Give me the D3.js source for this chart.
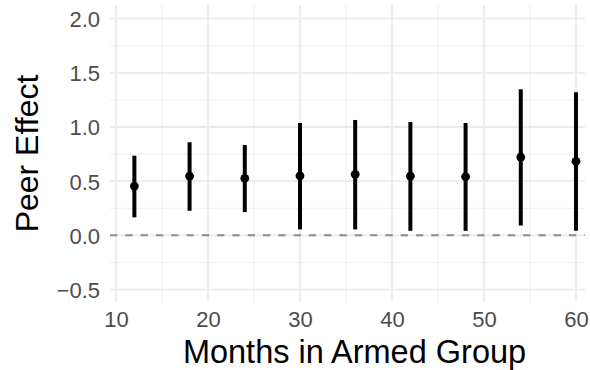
<!DOCTYPE html>
<html>
<head>
<meta charset="utf-8">
<script src="https://cdn.jsdelivr.net/npm/d3@7"></script>
<style>
  body { margin: 0; background: #fff; }
  text { font-family: "Liberation Sans", Arial, sans-serif; }
</style>
</head>
<body>
<div id="chart-area"></div>
<script>
// point estimates with 95% intervals
var months    = [12, 18, 24, 30, 36, 42, 48, 54, 60];
var estimates = [0.455, 0.547, 0.526, 0.550, 0.563, 0.547, 0.541, 0.723, 0.683];
var lower     = [0.166, 0.227, 0.215, 0.055, 0.055, 0.042, 0.042, 0.092, 0.042];
var upper     = [0.735, 0.859, 0.834, 1.037, 1.065, 1.046, 1.037, 1.348, 1.320];

var xTicks = [10, 20, 30, 40, 50, 60];
var xMinor = [15, 25, 35, 45, 55];
var yTicks = [-0.5, 0, 0.5, 1.0, 1.5, 2.0];
var yMinor = [-0.25, 0.25, 0.75, 1.25, 1.75];

var svgWidth = 590, svgHeight = 370;
var panel = { left: 110, right: 585, top: 5, bottom: 302 };

var svg = d3.select("#chart-area")
            .append("svg")
            .attr("width", svgWidth)
            .attr("height", svgHeight);

var x = d3.scaleLinear()
          .domain([9.35, 60.98])
          .range([panel.left, panel.right]);

var y = d3.scaleLinear()
          .domain([-0.615, 2.126])
          .range([panel.bottom, panel.top]);

var data = months.map((m, i) => ({ month: m, est: estimates[i], lo: lower[i], hi: upper[i] }));

// grid
var grid = svg.append("g");
grid.selectAll(".xminor").data(xMinor).enter().append("line")
    .attr("x1", d => x(d)).attr("x2", d => x(d))
    .attr("y1", panel.top).attr("y2", panel.bottom)
    .attr("stroke", "#f0f0f0").attr("stroke-width", 1);
grid.selectAll(".yminor").data(yMinor).enter().append("line")
    .attr("x1", panel.left).attr("x2", panel.right)
    .attr("y1", d => y(d)).attr("y2", d => y(d))
    .attr("stroke", "#f0f0f0").attr("stroke-width", 1);
grid.selectAll(".xmajor").data(xTicks).enter().append("line")
    .attr("x1", d => x(d)).attr("x2", d => x(d))
    .attr("y1", panel.top).attr("y2", panel.bottom)
    .attr("stroke", "#ebebeb").attr("stroke-width", 1.8);
grid.selectAll(".ymajor").data(yTicks).enter().append("line")
    .attr("x1", panel.left).attr("x2", panel.right)
    .attr("y1", d => y(d)).attr("y2", d => y(d))
    .attr("stroke", "#ebebeb").attr("stroke-width", 1.8);

// zero reference line
svg.append("line")
   .attr("x1", panel.left).attr("x2", panel.right)
   .attr("y1", y(0)).attr("y2", y(0))
   .attr("stroke", "#8c8c8c")
   .attr("stroke-width", 2)
   .attr("stroke-dasharray", "7.3,8");

// axes (labels only, theme_minimal has no axis lines)
var fmt = d => (d < 0 ? "\u2212" : "") + Math.abs(d).toFixed(1);

var yAxisCall = d3.axisLeft(y).tickValues(yTicks).tickFormat(fmt).tickSize(0).tickPadding(10);
var yAxis = svg.append("g")
   .attr("transform", "translate(" + panel.left + ",0)")
   .call(yAxisCall);

var xAxisCall = d3.axisBottom(x).tickValues(xTicks).tickFormat(d3.format("d")).tickSize(0).tickPadding(10);
var xAxis = svg.append("g")
   .attr("transform", "translate(0," + panel.bottom + ")")
   .call(xAxisCall);

[yAxis, xAxis].forEach(function(a) {
    a.select(".domain").remove();
    a.selectAll("text")
     .attr("font-family", "Liberation Sans, Arial, sans-serif")
     .attr("font-size", "22px")
     .attr("fill", "#4d4d4d");
});
yAxis.selectAll("text").attr("x", -10).attr("dy", "0.36em");
xAxis.selectAll("text").attr("y", 25).attr("dy", 0);

// error bars + points
var marks = svg.append("g");
marks.selectAll(".bar").data(data).enter().append("line")
     .attr("x1", d => x(d.month)).attr("x2", d => x(d.month))
     .attr("y1", d => y(d.lo)).attr("y2", d => y(d.hi))
     .attr("stroke", "#000").attr("stroke-width", 4);
marks.selectAll("circle").data(data).enter().append("circle")
     .attr("cx", d => x(d.month)).attr("cy", d => y(d.est))
     .attr("r", 4.4).attr("fill", "#000");

// axis titles
svg.append("text")
   .attr("x", 354.5).attr("y", 362.5)
   .attr("text-anchor", "middle")
   .attr("font-size", "32.5px")
   .attr("fill", "#000")
   .text("Months in Armed Group");

svg.append("g")
   .attr("transform", "translate(38, " + (panel.top + panel.bottom) / 2 + ")")
   .append("text")
   .attr("transform", "rotate(-90)")
   .attr("text-anchor", "middle")
   .attr("font-size", "32px")
   .attr("fill", "#000")
   .text("Peer Effect");
</script>
</body>
</html>
